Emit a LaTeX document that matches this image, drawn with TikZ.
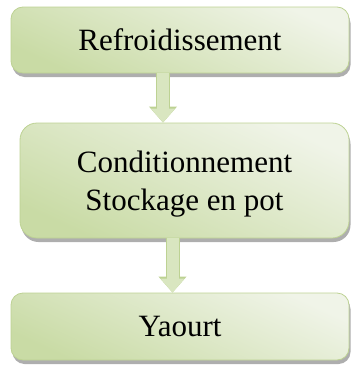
\documentclass[tikz,border=0pt]{standalone}
\usepackage{fontspec}
\setmainfont{Liberation Serif}
\usetikzlibrary{shadows,arrows.meta}
\definecolor{boxtop}{HTML}{F0F4E8}
\definecolor{boxbot}{HTML}{C9DBA5}
\definecolor{boxline}{HTML}{BDD293}
\definecolor{arrowfill}{HTML}{D9E6C0}
\definecolor{arrowline}{HTML}{BDD293}

\begin{document}
\begin{tikzpicture}[x=1pt,y=-1pt,
    box/.style={draw=boxline, line width=0.8pt, rounded corners=12pt,
      top color=boxtop, bottom color=boxbot, shading angle=-25,
      drop shadow={shadow xshift=1.5pt, shadow yshift=-4pt, fill=black!45, opacity=.7},
      font=\fontsize{31}{38}\selectfont, align=center, inner sep=0pt},
    flow/.style={line width=12pt, draw=arrowfill, -{Triangle[width=23pt,length=14pt]},
      preaction={draw=arrowline, line width=14pt, -{Triangle[width=27pt,length=16pt]}}}]
  \useasboundingbox (0,0) rectangle (352,367);
  \node[box, minimum width=338pt, minimum height=66pt] (A) at (180,40) {Refroidissement};
  \node[box, minimum width=329pt, minimum height=115pt, rounded corners=17pt, text depth=0pt]
    (B) at (184.5,180.5) {Conditionnement\\Stockage en pot};
  \node[box, minimum width=338pt, minimum height=67pt] (C) at (180,326.5) {Yaourt};
  \coordinate (x1) at (163,0);
  \coordinate (x2) at (172.5,0);
  \draw[flow] (A.south -| x1) -- (B.north -| x1);
  \draw[flow] (B.south -| x2) -- (C.north -| x2);
\end{tikzpicture}
\end{document}
